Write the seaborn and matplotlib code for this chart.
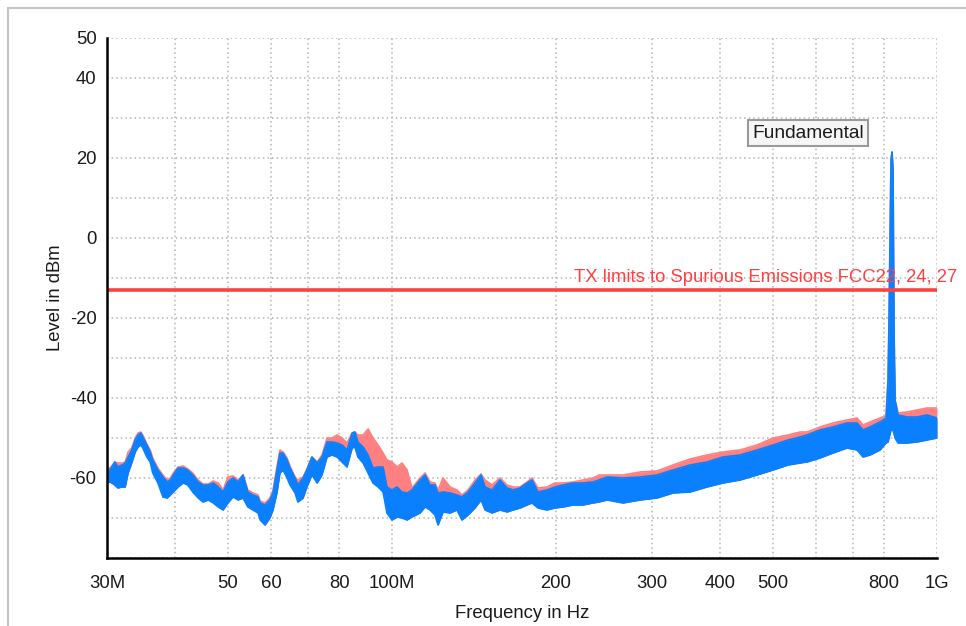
import matplotlib
matplotlib.use("Agg")
import matplotlib.pyplot as plt
from matplotlib.patches import Rectangle
import seaborn as sns
import pandas as pd

# spectrum envelope (MHz, dBm)
freq_mhz = [30.0, 30.4, 31.0, 31.4, 32.0, 32.4, 32.8, 33.3, 33.8, 34.2, 34.6, 34.9, 35.5, 36.0,
            36.4, 37.2, 38.0, 38.7, 39.2, 39.7, 40.5, 41.4, 42.2, 43.1, 44.1, 45.0, 46.0, 47.0,
            48.0, 49.0, 50.0, 51.1, 52.2, 53.3, 54.4, 55.6, 56.8, 57.3, 58.5, 59.7, 60.5, 61.5,
            62.3, 63.1, 64.2, 65.0, 66.4, 67.2, 68.7, 69.8, 71.3, 72.9, 74.4, 76.0, 77.6, 79.3,
            81.0, 82.7, 84.5, 85.5, 86.6, 88.5, 90.4, 92.3, 94.3, 96.3, 97.9, 100.0, 102.2, 104.3,
            106.6, 108.8, 112.6, 115.0, 117.4, 119.9, 121.5, 124.1, 127.8, 131.6, 134.4, 137.9,
            142.0, 145.7, 148.2, 152.6, 157.8, 162.6, 166.8, 171.8, 176.9, 180.7, 185.3, 192.5,
            199.1, 206.0, 214.9, 224.1, 233.8, 239.8, 248.1, 265.4, 285.2, 306.4, 327.9, 352.3,
            378.5, 405.0, 435.1, 467.5, 500.2, 532.9, 560.7, 577.5, 610.1, 644.6, 683.8, 713.3,
            731.6, 753.6, 786.1, 806.3, 813.2, 816.6, 823.5, 827.0, 830.5, 834.0, 837.6, 848.3,
            881.1, 919.2, 958.7, 1000.0]

blue_hi = [-58.0, -58.0, -56.0, -57.25, -56.75, -56.25, -54.75, -53.0, -50.5, -49.25, -48.75,
           -49.75, -51.75, -53.5, -55.5, -58.0, -59.75, -61.0, -60.5, -59.25, -57.5, -57.5, -58.0,
           -59.25, -61.0, -61.75, -61.75, -61.25, -62.25, -63.5, -61.0, -60.0, -61.0, -59.25,
           -63.5, -64.25, -64.75, -66.25, -66.75, -65.5, -63.75, -58.0, -53.75, -53.75, -55.5,
           -57.5, -60.0, -61.75, -60.0, -58.0, -54.75, -56.25, -54.75, -51.0, -51.0, -51.25,
           -51.75, -53.0, -48.75, -48.5, -51.0, -52.25, -54.25, -57.5, -57.25, -57.25, -62.25,
           -63.0, -62.25, -63.5, -63.75, -63.0, -60.5, -59.25, -61.75, -61.75, -63.75, -63.5,
           -63.75, -64.25, -64.75, -63.5, -61.25, -59.25, -62.25, -63.0, -60.5, -62.5, -63.0,
           -62.5, -61.25, -60.5, -63.5, -63.0, -62.25, -61.75, -61.25, -61.25, -61.0, -60.5,
           -59.75, -60.0, -59.75, -59.25, -58.0, -56.75, -56.0, -54.75, -54.25, -53.0, -51.75,
           -50.5, -49.75, -49.25, -48.0, -47.25, -46.25, -46.25, -48.0, -47.25, -46.0, -45.0,
           -35.5, -20.0, 19.5, 21.5, 17.0, -23.0, -40.5, -44.25, -44.75, -44.75, -44.25, -45.0]

blue_lo = [-61.25, -61.0, -61.75, -62.5, -62.25, -62.25, -58.75, -56.25, -53.5, -52.25, -51.75,
           -52.5, -54.75, -56.0, -58.75, -61.25, -64.75, -65.0, -64.25, -63.5, -62.25, -61.25,
           -61.75, -63.5, -65.0, -66.0, -65.5, -66.25, -67.25, -68.0, -66.25, -64.75, -65.5,
           -65.0, -67.25, -68.0, -68.75, -70.5, -71.75, -70.0, -68.0, -63.75, -58.75, -58.0,
           -60.0, -61.75, -63.75, -66.0, -65.0, -62.25, -59.25, -61.25, -59.25, -54.75, -54.25,
           -54.75, -56.0, -57.25, -52.5, -52.25, -54.75, -56.25, -58.75, -61.25, -62.25, -63.5,
           -68.75, -70.5, -69.75, -70.0, -70.5, -69.75, -68.75, -67.25, -68.0, -69.25, -71.75,
           -68.5, -68.75, -68.0, -70.5, -69.25, -67.5, -65.5, -68.0, -68.75, -68.0, -68.5, -68.0,
           -67.5, -66.75, -66.25, -67.5, -68.0, -67.5, -67.25, -66.75, -66.75, -66.25, -66.0,
           -65.5, -66.25, -65.5, -65.0, -63.75, -63.5, -62.25, -61.25, -60.5, -59.25, -58.0,
           -56.75, -56.25, -56.0, -55.0, -53.75, -52.5, -53.0, -54.75, -54.25, -53.0, -51.25,
           -51.0, -50.0, -48.0, -48.0, -48.0, -49.0, -50.0, -51.25, -51.25, -51.0, -50.5, -50.0]

red_hi = [-57.5, -57.5, -56.0, -56.25, -56.25, -56.0, -53.5, -52.5, -50.0, -48.75, -48.5, -49.25,
          -51.5, -53.0, -55.0, -57.5, -59.25, -60.5, -60.0, -58.75, -57.25, -57.0, -57.75, -58.75,
          -60.5, -61.5, -61.5, -60.75, -61.25, -63.0, -59.75, -59.5, -60.5, -59.25, -63.0, -63.75,
          -64.25, -65.75, -66.25, -65.0, -63.0, -57.25, -53.0, -53.5, -55.0, -57.0, -59.75, -60.5,
          -59.75, -57.75, -54.75, -56.0, -54.25, -50.0, -50.0, -49.25, -50.0, -51.25, -48.75,
          -48.5, -49.25, -49.25, -47.75, -50.0, -51.75, -53.75, -55.5, -56.0, -57.25, -56.25,
          -58.0, -62.5, -60.0, -58.75, -61.0, -61.25, -63.0, -60.0, -62.25, -63.0, -64.25, -63.0,
          -60.5, -59.0, -60.5, -61.75, -60.0, -61.75, -62.25, -62.25, -61.0, -60.0, -62.5, -62.25,
          -61.25, -61.25, -61.0, -60.5, -60.0, -59.25, -59.25, -59.25, -58.5, -58.25, -56.75,
          -55.25, -54.25, -53.5, -53.0, -51.75, -50.0, -49.25, -48.5, -48.5, -47.25, -46.25,
          -45.5, -45.0, -46.75, -46.0, -45.0, -44.5, -35.5, -20.0, 19.5, 21.5, 17.0, -23.0, -40.5,
          -43.75, -43.5, -43.0, -42.5, -42.5]

limit_dbm = -13
limit_text = "TX limits to Spurious Emissions FCC22, 24, 27"
marker_text = "Fundamental"
marker_pos = (580.0, 26.2)

x_ticks = [30, 40, 50, 60, 70, 80, 100, 200, 300, 400, 500, 600, 700, 800, 1000]
x_labels = ["30M", "", "50", "60", "", "80", "100M", "200", "300", "400", "500", "", "", "800", "1G"]
y_ticks = [-80, -70, -60, -50, -40, -30, -20, -10, 0, 10, 20, 30, 40, 50]
y_labels = ["", "", "-60", "", "-40", "", "-20", "", "0", "", "20", "", "40", "50"]

df = pd.DataFrame({"freq": freq_mhz, "blue_hi": blue_hi, "blue_lo": blue_lo, "red_hi": red_hi})

sns.set_style("white")
plt.rcParams["font.family"] = ["Liberation Sans", "DejaVu Sans"]

RED = "#FF8080"
BLUE = "#0A80FF"
LIMIT = "#FF4040"
TXT = "#1A1A1A"
FS = 13.3

fig = plt.figure(figsize=(9.66, 6.26), dpi=100)
ax = fig.add_axes([107 / 966, 1 - 558 / 626, 830 / 966, 520 / 626])

# red (max hold) first, blue trace on top
ax.fill_between(df["freq"], df["blue_lo"], df["red_hi"], color=RED, lw=0, zorder=2)
sns.lineplot(data=df, x="freq", y="red_hi", color=RED, lw=1.2, ax=ax, zorder=2)
ax.fill_between(df["freq"], df["blue_lo"], df["blue_hi"], color=BLUE, lw=0, zorder=3)
sns.lineplot(data=df, x="freq", y="blue_hi", color=BLUE, lw=1.2, ax=ax, zorder=3)
sns.lineplot(data=df, x="freq", y="blue_lo", color=BLUE, lw=1.2, ax=ax, zorder=3)

ax.axhline(limit_dbm, color=LIMIT, lw=2.6, zorder=4)
ax.text(1.024, 0.54, limit_text, transform=ax.transAxes, ha="right", va="center",
        color=LIMIT, fontsize=FS, clip_on=False, zorder=5)

ax.text(marker_pos[0], marker_pos[1], marker_text, ha="center", va="center", color=TXT,
        fontsize=FS + 0.5, zorder=6,
        bbox=dict(boxstyle="square,pad=0.22", fc="#F6F6F6", ec="#9A9A9A", lw=1.5))

ax.set_xscale("log")
ax.set_xlim(30, 1000)
ax.set_ylim(-80, 50)
ax.set_xticks(x_ticks)
ax.set_xticklabels(x_labels)
ax.minorticks_off()
ax.set_yticks(y_ticks)
ax.set_yticklabels(y_labels)

ax.grid(True, ls=(0, (1, 2)), color="#B4B4B4", lw=1.1, zorder=0)
ax.set_axisbelow(True)
for side in ["top", "right"]:
    ax.spines[side].set_visible(False)
for side in ["left", "bottom"]:
    ax.spines[side].set_color("black")
    ax.spines[side].set_linewidth(1.8)
    ax.spines[side].set_zorder(7)

ax.tick_params(axis="both", direction="inout", length=9, width=1.8, color="black",
               labelsize=FS, labelcolor=TXT)
ax.tick_params(axis="x", pad=8)
ax.tick_params(axis="y", pad=3)

ax.set_xlabel("Frequency in Hz", fontsize=FS, color=TXT, labelpad=9)
ax.set_ylabel("Level in dBm", fontsize=FS, color=TXT, labelpad=4)

# window frame of the original screenshot
fig.patches.append(Rectangle((8 / 966, -0.1), 1.2, 1.1 - 8 / 626, transform=fig.transFigure,
                             fill=False, ec="#C4C4C4", lw=1.5))

fig.savefig("out.png", dpi=100)
